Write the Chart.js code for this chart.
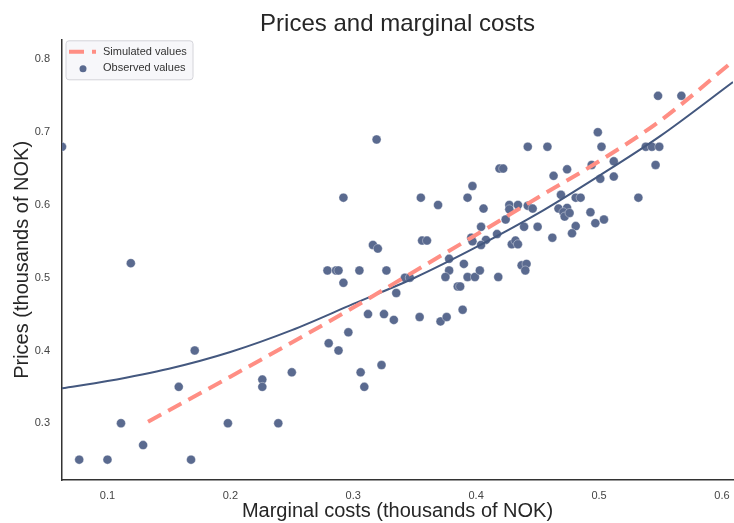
<!DOCTYPE html>
<html>
<head>
<meta charset="utf-8">
<title>Prices and marginal costs</title>
<script src="https://cdn.jsdelivr.net/npm/chart.js@4/dist/chart.umd.min.js"></script>
<style>
  html, body { margin: 0; padding: 0; background: #ffffff; }
  #wrap { width: 734px; height: 523px; position: relative; }
</style>
</head>
<body>
<div id="wrap"><canvas id="grafico"></canvas></div>
<script>
// observed (marginal cost, price) pairs, thousands of NOK
const obsCost = [
  0.063, 0.119, 0.077, 0.100, 0.111, 0.129, 0.158, 0.171, 0.168, 0.198,
  0.226, 0.226, 0.239, 0.250, 0.279, 0.286, 0.288, 0.305, 0.292, 0.296,
  0.280, 0.288, 0.306, 0.309, 0.312, 0.316, 0.320, 0.327, 0.335, 0.342,
  0.346, 0.325, 0.333, 0.354, 0.323, 0.319, 0.292, 0.355, 0.442, 0.458,
  0.419, 0.422, 0.463, 0.397, 0.393, 0.369, 0.427, 0.427, 0.434, 0.406,
  0.442, 0.446, 0.469, 0.404, 0.424, 0.417, 0.439, 0.450, 0.462, 0.356,
  0.360, 0.396, 0.397, 0.408, 0.429, 0.432, 0.434, 0.404, 0.378, 0.390,
  0.378, 0.375, 0.385, 0.387, 0.393, 0.399, 0.403, 0.418, 0.437, 0.441,
  0.440, 0.371, 0.376, 0.389, 0.548, 0.567, 0.499, 0.502, 0.538, 0.543,
  0.549, 0.546, 0.512, 0.494, 0.474, 0.501, 0.512, 0.481, 0.485, 0.532,
  0.467, 0.474, 0.471, 0.472, 0.476, 0.493, 0.504, 0.497, 0.481, 0.478
];
const obsPrice = [
  0.680, 0.520, 0.250, 0.250, 0.300, 0.270, 0.350, 0.400, 0.250, 0.300,
  0.360, 0.350, 0.300, 0.370, 0.510, 0.510, 0.510, 0.510, 0.493, 0.425,
  0.410, 0.400, 0.370, 0.350, 0.450, 0.545, 0.540, 0.510, 0.479, 0.500,
  0.500, 0.450, 0.442, 0.446, 0.380, 0.690, 0.610, 0.610, 0.680, 0.680,
  0.650, 0.650, 0.640, 0.626, 0.610, 0.600, 0.600, 0.594, 0.600, 0.595,
  0.599, 0.595, 0.614, 0.570, 0.580, 0.560, 0.570, 0.570, 0.555, 0.551,
  0.551, 0.555, 0.550, 0.552, 0.546, 0.551, 0.546, 0.545, 0.526, 0.519,
  0.510, 0.501, 0.488, 0.488, 0.501, 0.501, 0.510, 0.501, 0.517, 0.519,
  0.510, 0.440, 0.446, 0.456, 0.750, 0.750, 0.700, 0.680, 0.680, 0.680,
  0.680, 0.655, 0.660, 0.655, 0.649, 0.636, 0.639, 0.610, 0.610, 0.610,
  0.595, 0.596, 0.590, 0.584, 0.589, 0.590, 0.580, 0.575, 0.571, 0.561
];

// fitted curve through the observations
const fitCost  = [0.063, 0.100, 0.150, 0.200, 0.250, 0.300, 0.350, 0.400, 0.450, 0.500, 0.550, 0.609];
const fitPrice = [0.348, 0.358, 0.375, 0.398, 0.428, 0.464, 0.500, 0.542, 0.588, 0.640, 0.695, 0.769];

// simulated prices
const simCost  = [0.133, 0.200, 0.250, 0.300, 0.350, 0.400, 0.450, 0.500, 0.550, 0.610];
const simPrice = [0.302, 0.364, 0.411, 0.459, 0.509, 0.559, 0.610, 0.660, 0.716, 0.799];

const xTicks = [0.1, 0.2, 0.3, 0.4, 0.5, 0.6];
const yTicks = [0.3, 0.4, 0.5, 0.6, 0.7, 0.8];

const legendItems = ['Simulated values', 'Observed values'];

const fonte = '"Liberation Sans", Arial, sans-serif';
const corPonto = '#5a6a8f';
const corCurva = '#44587f';
const corSim = '#ff8e84';

const pares = (xs, ys) => xs.map((x, i) => ({ x: x, y: ys[i] }));

// legend drawn inside the plot, top-left, like a seaborn frame
const legendaInterna = {
  id: 'legendaInterna',
  afterDraw(chart) {
    const { ctx, chartArea } = chart;
    const x0 = chartArea.left + 4;
    const y0 = chartArea.top + 1;
    const w = 127, h = 39;
    ctx.save();
    ctx.beginPath();
    ctx.roundRect(x0, y0, w, h, 3);
    ctx.fillStyle = 'rgba(246,246,249,0.85)';
    ctx.fill();
    ctx.strokeStyle = '#d4d4da';
    ctx.lineWidth = 1;
    ctx.stroke();

    // dashed line sample
    ctx.strokeStyle = corSim;
    ctx.lineWidth = 4;
    ctx.setLineDash([15, 8]);
    ctx.beginPath();
    ctx.moveTo(x0 + 3, y0 + 11);
    ctx.lineTo(x0 + 30, y0 + 11);
    ctx.stroke();
    ctx.setLineDash([]);

    // marker sample
    ctx.fillStyle = corPonto;
    ctx.beginPath();
    ctx.arc(x0 + 17, y0 + 28, 3.5, 0, Math.PI * 2);
    ctx.fill();

    ctx.fillStyle = '#333333';
    ctx.font = '11px ' + fonte;
    ctx.textBaseline = 'middle';
    ctx.fillText(legendItems[0], x0 + 37, y0 + 11);
    ctx.fillText(legendItems[1], x0 + 37, y0 + 27);
    ctx.restore();
  }
};

new Chart(document.getElementById('grafico'), {
  type: 'scatter',
  data: {
    datasets: [
      {
        label: 'Fit',
        type: 'line',
        data: pares(fitCost, fitPrice),
        borderColor: corCurva,
        borderWidth: 2,
        pointRadius: 0,
        cubicInterpolationMode: 'monotone',
        fill: false,
        order: 2
      },
      {
        label: legendItems[0],
        type: 'line',
        data: pares(simCost, simPrice),
        borderColor: corSim,
        borderWidth: 4,
        borderDash: [15, 8],
        pointRadius: 0,
        cubicInterpolationMode: 'monotone',
        fill: false,
        order: 1
      },
      {
        label: legendItems[1],
        data: pares(obsCost, obsPrice),
        backgroundColor: corPonto,
        borderColor: 'rgba(255,255,255,0.6)',
        borderWidth: 0.6,
        pointRadius: 4.5,
        pointHoverRadius: 4.5,
        order: 3
      }
    ]
  },
  options: {
    responsive: true,
    maintainAspectRatio: false,
    animation: false,
    // markers may be cut at the frame, so no extra room around the plot
    layout: { autoPadding: false, padding: { left: 0, right: 1, top: 0, bottom: 0 } },
    plugins: {
      legend: { display: false },
      tooltip: { enabled: false },
      title: {
        display: true,
        fullSize: false,
        text: 'Prices and marginal costs',
        color: '#262626',
        font: { family: fonte, size: 24, weight: 'normal' },
        padding: { top: 10, bottom: 1 }
      }
    },
    scales: {
      x: {
        type: 'linear',
        min: 0.063,
        max: 0.609,
        afterBuildTicks: scale => { scale.ticks = xTicks.map(v => ({ value: v })); },
        afterFit: scale => {
          scale.height = 43;
          scale.paddingLeft = 0;
          scale.paddingRight = 0;
        },
        grid: { display: false, drawTicks: false },
        border: { display: true, color: '#333333', width: 1.5 },
        ticks: {
          color: '#444444',
          padding: 9,
          font: { family: fonte, size: 11 },
          callback: v => v.toFixed(1)
        },
        title: {
          display: true,
          text: 'Marginal costs (thousands of NOK)',
          color: '#262626',
          font: { family: fonte, size: 20 },
          padding: { top: 0, bottom: 0 }
        }
      },
      y: {
        type: 'linear',
        min: 0.222,
        max: 0.827,
        afterBuildTicks: scale => { scale.ticks = yTicks.map(v => ({ value: v })); },
        afterFit: scale => { scale.width = 62; },
        grid: { display: false, drawTicks: false },
        border: { display: true, color: '#333333', width: 1.5 },
        ticks: {
          color: '#444444',
          padding: 12,
          font: { family: fonte, size: 11 },
          callback: v => v.toFixed(1)
        },
        title: {
          display: true,
          text: 'Prices (thousands of NOK)',
          color: '#262626',
          font: { family: fonte, size: 20 },
          padding: { top: 10, bottom: 0 }
        }
      }
    }
  },
  plugins: [legendaInterna]
});
</script>
</body>
</html>
